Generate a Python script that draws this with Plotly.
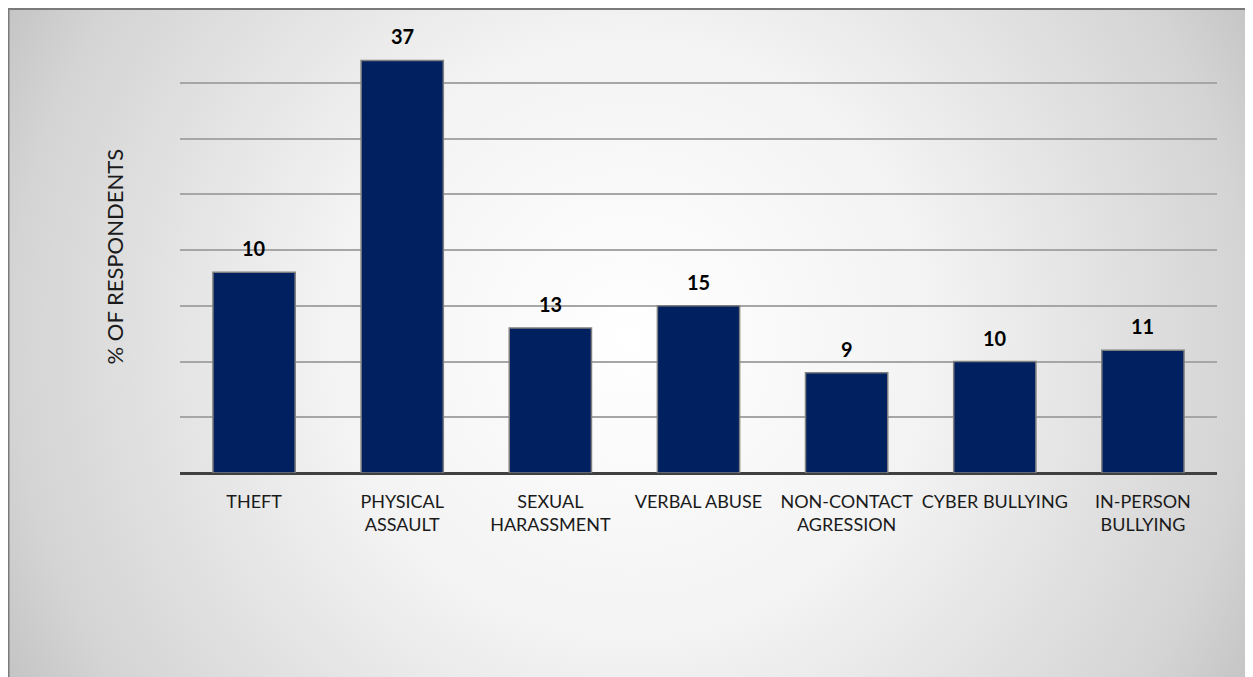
import base64
import plotly.graph_objects as go

categories = ["THEFT", "PHYSICAL<br>ASSAULT", "SEXUAL<br>HARASSMENT", "VERBAL ABUSE",
              "NON-CONTACT<br>AGRESSION", "CYBER BULLYING", "IN-PERSON<br>BULLYING"]
bar_values = [18, 37, 13, 15, 9, 10, 11]
label_texts = ["10", "37", "13", "15", "9", "10", "11"]
y_ticks = [0, 5, 10, 15, 20, 25, 30, 35, 40]

W, H = 1245, 669
L, R, T, B = 172, 36, 19, 204
pw, ph = W - L - R, H - T - B

# background (radial gradient + left/top border)
svg = f'''<svg xmlns="http://www.w3.org/2000/svg" width="{W}" height="{H}" viewBox="0 0 {W} {H}" preserveAspectRatio="none">
<defs><radialGradient id="g" cx="622" cy="330" r="720" gradientUnits="userSpaceOnUse">
<stop offset="0" stop-color="#ffffff"/><stop offset="0.42" stop-color="#f3f3f3"/>
<stop offset="0.86" stop-color="#d4d4d4"/><stop offset="1" stop-color="#c2c2c2"/></radialGradient></defs>
<rect x="0" y="0" width="{W}" height="{H}" fill="url(#g)"/>
<line x1="0" y1="0" x2="0" y2="{H}" stroke="#7a7a7a" stroke-width="3"/>
<line x1="0" y1="1" x2="{W}" y2="1" stroke="#7a7a7a" stroke-width="2"/>
</svg>'''
src = "data:image/svg+xml;base64," + base64.b64encode(svg.encode()).decode()

FONT = "Lato, 'Open Sans', sans-serif"

fig = go.Figure()
fig.add_trace(go.Bar(
    x=categories, y=bar_values,
    marker=dict(color="#002060", line=dict(color="#7f7f7f", width=1.5)),
    hoverinfo="skip",
))

for c, v, t in zip(categories, bar_values, label_texts):
    fig.add_annotation(x=c, y=v, text=f"<b>{t}</b>", showarrow=False,
                       yanchor="bottom", yshift=10,
                       font=dict(family=FONT, size=20, color="#000000"))

fig.add_annotation(xref="paper", yref="paper", x=(91 - L) / pw, y=(T + ph - 249) / ph,
                   text="% OF RESPONDENTS", textangle=-90, showarrow=False,
                   font=dict(family=FONT, size=22, color="#1a1a1a"))

fig.add_layout_image(dict(
    source=src, xref="paper", yref="paper",
    x=-L / pw, y=1 + T / ph,
    sizex=W / pw, sizey=H / ph, sizing="stretch",
    xanchor="left", yanchor="top", layer="below",
))

fig.update_layout(
    width=W, height=H,
    margin=dict(l=L, r=R, t=T, b=B, pad=0),
    paper_bgcolor="white", plot_bgcolor="rgba(0,0,0,0)",
    bargap=0.445, showlegend=False,
    font=dict(family=FONT, size=18, color="#1a1a1a"),
    xaxis=dict(showgrid=False, showline=False, ticks="outside", ticklen=12,
               tickcolor="rgba(0,0,0,0)", tickfont=dict(size=18, color="#1a1a1a"),
               fixedrange=True),
    yaxis=dict(range=[0, 40], tickvals=y_ticks, showticklabels=False,
               showgrid=True, gridcolor="#a6a6a6", gridwidth=1.5,
               zeroline=True, zerolinecolor="#404040", zerolinewidth=3,
               showline=False, fixedrange=True),
)

fig.write_html("out.html")
